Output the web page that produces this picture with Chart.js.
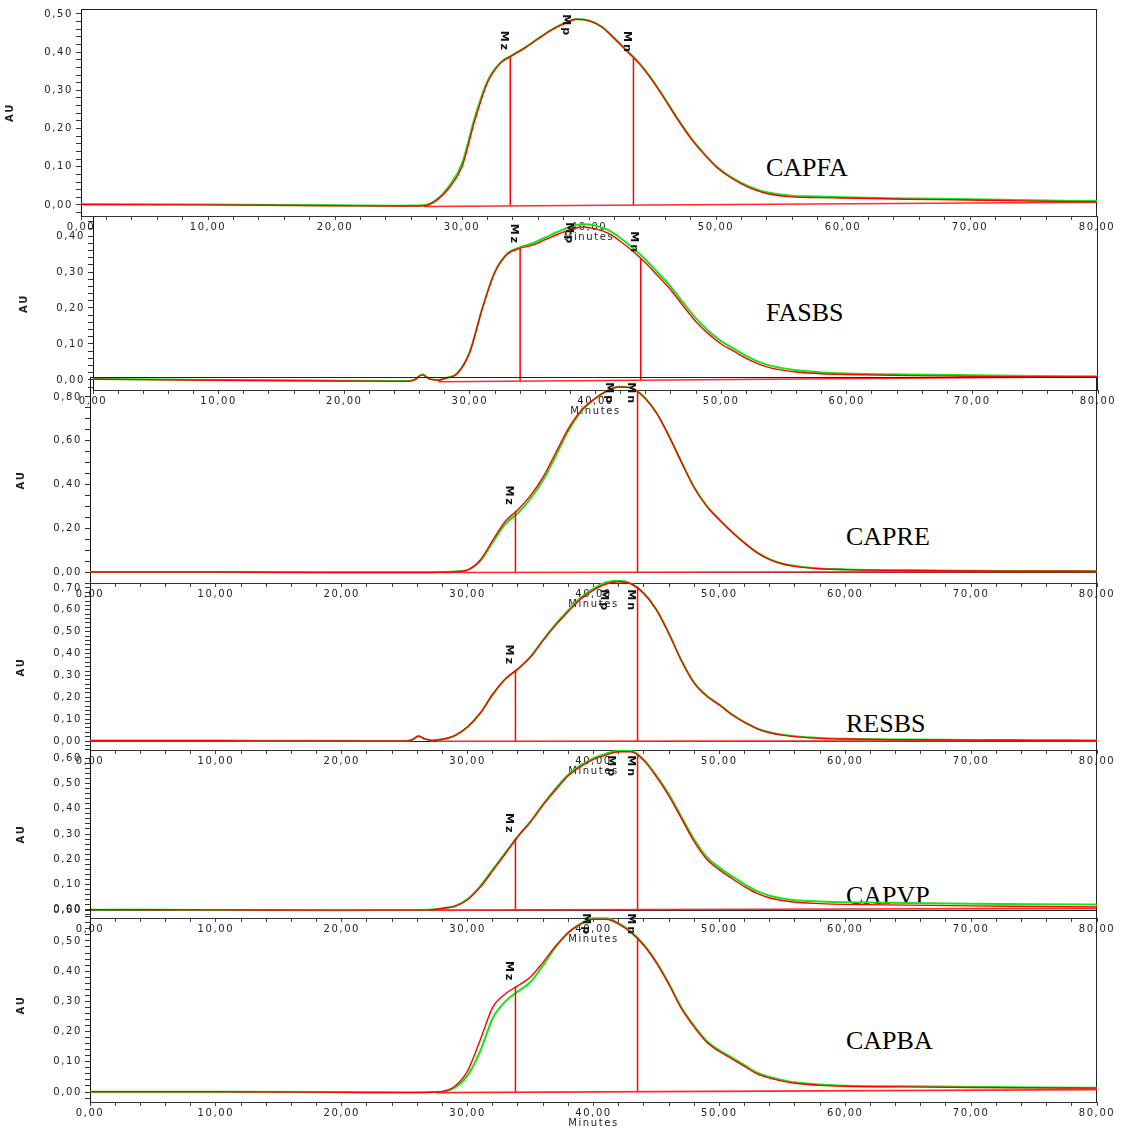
<!DOCTYPE html>
<html>
<head>
<meta charset="utf-8">
<script src="https://cdn.jsdelivr.net/npm/chart.js@4.4.0/dist/chart.umd.min.js"></script>
<style>
    body { margin: 0; background: #fff; width: 1126px; height: 1128px; position: relative; overflow: hidden; }
    canvas { position: absolute; left: 0; top: 0; }
    .muestra { position: absolute; font-family: "Liberation Serif", "Times New Roman", serif; font-size: 26px; line-height: 1; color: #000; }
</style>
</head>
<body>
<div class="muestra" style="left:766px; top:155px">CAPFA</div>
<div class="muestra" style="left:766px; top:300px">FASBS</div>
<div class="muestra" style="left:846px; top:524px">CAPRE</div>
<div class="muestra" style="left:846px; top:711px">RESBS</div>
<div class="muestra" style="left:846px; top:883px">CAPVP</div>
<div class="muestra" style="left:846px; top:1028px">CAPBA</div>
<script>
// Tiempos de retención (min) y absorbancias (AU): rojo = inyección 1, verde = inyección 2
const tCAPFA = [0, 10, 20, 25, 27, 28, 29, 30, 31, 32, 33, 34, 35, 36, 37, 38, 39, 40, 41, 42, 43, 44, 45, 46, 47, 48, 49, 50, 51, 52, 53, 54, 56, 58, 60, 65, 70, 75, 80];
const rojoCAPFA = [0.001, 0.000, -0.002, -0.003, -0.002, 0.012, 0.045, 0.100, 0.220, 0.320, 0.370, 0.392, 0.412, 0.435, 0.457, 0.474, 0.486, 0.482, 0.466, 0.435, 0.402, 0.368, 0.325, 0.275, 0.223, 0.175, 0.135, 0.100, 0.075, 0.055, 0.040, 0.030, 0.021, 0.019, 0.018, 0.015, 0.013, 0.010, 0.008];
const verdeCAPFA = [0.002, 0.001, -0.001, -0.002, -0.001, 0.014, 0.050, 0.108, 0.228, 0.324, 0.372, 0.393, 0.413, 0.436, 0.458, 0.475, 0.486, 0.483, 0.467, 0.437, 0.404, 0.370, 0.327, 0.277, 0.225, 0.177, 0.137, 0.102, 0.077, 0.058, 0.043, 0.033, 0.024, 0.022, 0.020, 0.017, 0.015, 0.012, 0.010];
const baseCAPFA = [[27, -0.004], [80, 0.007]];
const marcasCAPFA = [33.8, 38.7, 43.5];
const alturasCAPFA = [0.390, 0.486, 0.385];

const tFASBS = [0, 10, 20, 24, 25, 25.6, 26.2, 26.8, 27.5, 28, 29, 30, 31, 32, 33, 34, 35, 36, 37, 38, 39, 40, 41, 42, 43, 44, 45, 46, 47, 48, 49, 50, 51, 52, 53, 54, 56, 58, 60, 65, 70, 75, 80];
const rojoFASBS = [0.002, -0.001, -0.003, -0.004, -0.004, 0.000, 0.014, 0.002, -0.001, 0.004, 0.018, 0.078, 0.200, 0.300, 0.350, 0.366, 0.375, 0.390, 0.405, 0.418, 0.425, 0.420, 0.408, 0.385, 0.357, 0.325, 0.288, 0.250, 0.205, 0.162, 0.128, 0.100, 0.080, 0.060, 0.044, 0.033, 0.022, 0.017, 0.015, 0.012, 0.010, 0.009, 0.008];
const verdeFASBS = [0.003, 0.000, -0.002, -0.003, -0.003, 0.001, 0.015, 0.003, 0.000, 0.005, 0.019, 0.079, 0.200, 0.301, 0.352, 0.369, 0.380, 0.396, 0.412, 0.426, 0.433, 0.429, 0.417, 0.394, 0.366, 0.334, 0.297, 0.259, 0.214, 0.171, 0.136, 0.108, 0.087, 0.067, 0.050, 0.039, 0.027, 0.021, 0.018, 0.015, 0.013, 0.011, 0.010];
const baseFASBS = [[27.5, -0.005], [80, 0.009]];
const marcasFASBS = [34.0, 38.4, 43.6];
const alturasFASBS = [0.366, 0.426, 0.339];

const tCAPRE = [0, 10, 20, 25, 28, 29, 30, 31, 32, 33, 34, 35, 36, 37, 38, 39, 40, 41, 42, 43, 44, 45, 46, 47, 48, 49, 50, 51, 52, 53, 54, 55, 56, 58, 60, 65, 70, 75, 80];
const rojoCAPRE = [0.000, 0.000, -0.002, -0.002, -0.001, 0.002, 0.010, 0.055, 0.146, 0.232, 0.285, 0.350, 0.435, 0.545, 0.655, 0.737, 0.788, 0.825, 0.845, 0.840, 0.800, 0.727, 0.620, 0.500, 0.385, 0.300, 0.238, 0.182, 0.132, 0.088, 0.057, 0.037, 0.026, 0.015, 0.011, 0.007, 0.005, 0.004, 0.003];
const verdeCAPRE = [0.000, 0.000, -0.001, -0.001, 0.000, 0.002, 0.009, 0.050, 0.136, 0.220, 0.270, 0.336, 0.420, 0.530, 0.645, 0.732, 0.786, 0.825, 0.846, 0.841, 0.801, 0.728, 0.622, 0.502, 0.387, 0.302, 0.240, 0.184, 0.134, 0.090, 0.059, 0.039, 0.028, 0.016, 0.012, 0.008, 0.006, 0.005, 0.004];
const baseCAPRE = [[28, -0.002], [80, 0.002]];
const marcasCAPRE = [33.8, 41.7, 43.5];
const alturasCAPRE = [0.280, 0.845, 0.823];

const tRESBS = [0, 10, 20, 24, 25, 25.6, 26.1, 26.6, 27.2, 28, 29, 30, 31, 32, 33, 34, 35, 36, 37, 38, 39, 40, 41, 42, 43, 44, 45, 46, 47, 48, 49, 50, 51, 52, 53, 54, 55, 56, 58, 60, 65, 70, 75, 80];
const rojoRESBS = [0.002, 0.001, 0.000, 0.000, 0.000, 0.006, 0.023, 0.010, 0.003, 0.008, 0.026, 0.065, 0.128, 0.215, 0.285, 0.330, 0.384, 0.460, 0.530, 0.592, 0.650, 0.690, 0.718, 0.728, 0.718, 0.675, 0.600, 0.490, 0.365, 0.265, 0.205, 0.165, 0.120, 0.085, 0.056, 0.038, 0.027, 0.020, 0.012, 0.009, 0.006, 0.004, 0.003, 0.002];
const verdeRESBS = [0.003, 0.002, 0.001, 0.000, 0.000, 0.006, 0.022, 0.010, 0.003, 0.008, 0.025, 0.064, 0.126, 0.212, 0.283, 0.330, 0.386, 0.463, 0.535, 0.598, 0.656, 0.697, 0.726, 0.733, 0.720, 0.676, 0.601, 0.491, 0.367, 0.267, 0.207, 0.167, 0.122, 0.087, 0.058, 0.040, 0.029, 0.022, 0.014, 0.010, 0.007, 0.005, 0.004, 0.003];
const baseRESBS = [[27.5, -0.001], [80, 0.001]];
const marcasRESBS = [33.8, 41.3, 43.5];
const alturasRESBS = [0.325, 0.727, 0.705];

const tCAPVP = [0, 10, 20, 25, 27, 28, 29, 30, 31, 32, 33, 34, 35, 36, 37, 38, 39, 40, 41, 42, 43, 44, 45, 46, 47, 48, 49, 50, 51, 52, 53, 54, 55, 56, 58, 60, 65, 70, 75, 80];
const rojoCAPVP = [0.001, 0.000, -0.001, -0.001, 0.000, 0.006, 0.014, 0.040, 0.090, 0.155, 0.222, 0.290, 0.348, 0.415, 0.475, 0.530, 0.567, 0.595, 0.612, 0.625, 0.625, 0.590, 0.526, 0.450, 0.360, 0.270, 0.200, 0.158, 0.124, 0.092, 0.065, 0.047, 0.037, 0.030, 0.025, 0.022, 0.019, 0.016, 0.014, 0.012];
const verdeCAPVP = [0.001, 0.000, -0.001, 0.000, 0.001, 0.007, 0.016, 0.043, 0.094, 0.160, 0.226, 0.292, 0.350, 0.418, 0.480, 0.535, 0.572, 0.600, 0.617, 0.629, 0.628, 0.594, 0.531, 0.456, 0.367, 0.278, 0.209, 0.167, 0.133, 0.101, 0.074, 0.056, 0.045, 0.038, 0.033, 0.030, 0.027, 0.024, 0.022, 0.021];
const baseCAPVP = [[27, -0.001], [80, 0.006]];
const marcasCAPVP = [33.8, 41.9, 43.5];
const alturasCAPVP = [0.283, 0.620, 0.612];

const tCAPBA = [0, 10, 20, 25, 27, 28, 29, 30, 31, 32, 33, 34, 35, 36, 37, 38, 39, 40, 41, 42, 43, 44, 45, 46, 47, 48, 49, 50, 51, 52, 53, 54, 55, 56, 58, 60, 65, 70, 75, 80];
const rojoCAPBA = [0.001, 0.001, -0.001, -0.002, -0.001, 0.002, 0.020, 0.070, 0.172, 0.281, 0.325, 0.352, 0.381, 0.430, 0.483, 0.528, 0.556, 0.572, 0.572, 0.556, 0.527, 0.485, 0.427, 0.355, 0.275, 0.215, 0.165, 0.134, 0.110, 0.085, 0.060, 0.046, 0.036, 0.029, 0.022, 0.019, 0.017, 0.015, 0.014, 0.013];
const verdeCAPBA = [0.001, 0.001, 0.000, -0.001, 0.000, 0.001, 0.015, 0.055, 0.135, 0.245, 0.300, 0.333, 0.364, 0.420, 0.480, 0.528, 0.558, 0.575, 0.575, 0.559, 0.530, 0.488, 0.430, 0.358, 0.279, 0.219, 0.169, 0.138, 0.114, 0.089, 0.064, 0.050, 0.040, 0.032, 0.025, 0.021, 0.019, 0.017, 0.015, 0.014];
const baseCAPBA = [[27.5, -0.002], [80, 0.008]];
const marcasCAPBA = [33.8, 39.9, 43.5];
const alturasCAPBA = [0.350, 0.572, 0.510];

// Etiquetas de los marcadores (solo el 1º y el 3º llevan línea vertical)
const textosMarcas = ['Mz', 'Mp', 'Mn'];
const conLinea = [0, 2];

// Geometría de cada cromatograma dentro de la página
const paneles = [
    { t: tCAPFA, rojo: rojoCAPFA, verde: verdeCAPFA, base: baseCAPFA, marcas: marcasCAPFA, alturas: alturasCAPFA,
      izq: 81, der: 1097, arriba: 8, eje: 216, yMin: -0.029, yMax: 0.513, menor: 0.02, mayor: 0.1, tope: 0.50, padAU: 4, marcoArriba: true },
    { t: tFASBS, rojo: rojoFASBS, verde: verdeFASBS, base: baseFASBS, marcas: marcasFASBS, alturas: alturasFASBS,
      izq: 93, der: 1098, arriba: 217, eje: 390, yMin: -0.028, yMax: 0.453, menor: 0.02, mayor: 0.1, tope: 0.44, padAU: 18 },
    { t: tCAPRE, rojo: rojoCAPRE, verde: verdeCAPRE, base: baseCAPRE, marcas: marcasCAPRE, alturas: alturasCAPRE,
      izq: 90, der: 1097, arriba: 377, eje: 583, yMin: -0.050, yMax: 0.891, menor: 0.05, mayor: 0.2, tope: 0.80, padAU: 15, marcoArriba: true, cero: true },
    { t: tRESBS, rojo: rojoRESBS, verde: verdeRESBS, base: baseRESBS, marcas: marcasRESBS, alturas: alturasRESBS,
      izq: 90, der: 1097, arriba: 584, eje: 750, yMin: -0.041, yMax: 0.718, menor: 0.02, mayor: 0.1, tope: 0.70, padAU: 15, cero: true },
    { t: tCAPVP, rojo: rojoCAPVP, verde: verdeCAPVP, base: baseCAPVP, marcas: marcasCAPVP, alturas: alturasCAPVP,
      izq: 90, der: 1097, arriba: 750, eje: 918, yMin: -0.032, yMax: 0.632, menor: 0.02, mayor: 0.1, tope: 0.60, padAU: 15, cero: true },
    { t: tCAPBA, rojo: rojoCAPBA, verde: verdeCAPBA, base: baseCAPBA, marcas: marcasCAPBA, alturas: alturasCAPBA,
      izq: 90, der: 1097, arriba: 908, eje: 1102, yMin: -0.033, yMax: 0.609, menor: 0.02, mayor: 0.1, tope: 0.60, padAU: 15 }
];

const fuente = { family: 'DejaVu Sans', size: 10 };
const coma = v => v.toFixed(2).replace('.', ',');

function baseEn(base, x) {
    const [[x0, y0], [x1, y1]] = base;
    return y0 + (y1 - y0) * (x - x0) / (x1 - x0);
}

// Espaciado ancho de los textos de los ejes
const espaciado = {
    id: 'espaciado',
    beforeDraw(chart) { chart.ctx.letterSpacing = '1.6px'; }
};

// Marco superior/derecho y línea de cero
const marco = {
    id: 'marco',
    beforeDatasetsDraw(chart, args, o) {
        const { ctx, chartArea: a, scales: { y } } = chart;
        ctx.save();
        ctx.strokeStyle = '#222';
        ctx.lineWidth = 1;
        ctx.beginPath();
        if (o.arriba) { ctx.moveTo(a.left, a.top + 0.5); ctx.lineTo(a.right, a.top + 0.5); }
        ctx.moveTo(a.right - 0.5, a.top); ctx.lineTo(a.right - 0.5, a.bottom);
        if (o.cero) {
            const y0 = Math.round(y.getPixelForValue(0)) + 0.5;
            ctx.moveTo(a.left, y0); ctx.lineTo(a.right, y0);
        }
        ctx.stroke();
        ctx.restore();
    }
};

// Rótulos verticales de los marcadores; nunca más arriba que el borde del panel + 28 px
const rotulos = {
    id: 'rotulos',
    afterDatasetsDraw(chart, args, o) {
        const { ctx, chartArea: a, scales: { x, y } } = chart;
        ctx.save();
        ctx.letterSpacing = '2px';
        ctx.font = 'bold 11px "DejaVu Sans"';
        ctx.fillStyle = '#111';
        o.marcas.forEach((m, i) => {
            const fin = Math.max(y.getPixelForValue(o.alturas[i]) - 4, a.top + 28);
            ctx.save();
            ctx.translate(x.getPixelForValue(m) - 1, fin);
            ctx.rotate(Math.PI / 2);
            ctx.textAlign = 'right';
            ctx.textBaseline = 'top';
            ctx.fillText(textosMarcas[i], 0, 0);
            ctx.restore();
        });
        ctx.restore();
    }
};

function crearPanel(p) {
    const canvas = document.createElement('canvas');
    canvas.width = 1126;
    canvas.height = p.eje + 27;
    document.body.appendChild(canvas);

    const puntos = (xs, ys) => ys.map((v, i) => ({ x: xs[i], y: v }));
    const datasets = [
        { data: puntos(p.t, p.rojo), borderColor: '#ff0000', borderWidth: 1.4 },
        { data: p.base.map(([x, y]) => ({ x, y })), borderColor: '#ff2b2b', borderWidth: 1.6 }
    ];
    conLinea.forEach(i => {
        const m = p.marcas[i];
        datasets.push({ data: [{ x: m, y: baseEn(p.base, m) }, { x: m, y: p.alturas[i] }], borderColor: '#ff0000', borderWidth: 1.5 });
    });
    datasets.push({ data: puntos(p.t, p.verde), borderColor: '#14e614', borderWidth: 2 });
    datasets.forEach(d => { d.clip = false; d.cubicInterpolationMode = 'monotone'; });

    const ticksY = [];
    for (let k = Math.ceil(p.yMin / p.menor - 1e-9); k * p.menor <= p.tope + 1e-9; k++) ticksY.push({ value: +(k * p.menor).toFixed(3) });
    const ticksX = [];
    for (let v = 0; v <= 80; v += 2) ticksX.push({ value: v });

    return new Chart(canvas, {
        type: 'line',
        data: { datasets },
        options: {
            responsive: false,
            animation: false,
            events: [],
            layout: { padding: { left: 0, top: p.arriba, right: 1126 - p.der, bottom: 0 } },
            elements: { point: { radius: 0 }, line: { tension: 0 } },
            plugins: {
                legend: { display: false },
                tooltip: { enabled: false },
                marco: { arriba: !!p.marcoArriba, cero: !!p.cero },
                rotulos: { marcas: p.marcas, alturas: p.alturas }
            },
            scales: {
                x: {
                    type: 'linear', min: 0, max: 80,
                    afterBuildTicks: s => { s.ticks = ticksX; },
                    afterFit: s => { s.height = 27; },
                    grid: { drawOnChartArea: false, tickLength: 4, color: '#444' },
                    border: { color: '#333' },
                    ticks: { autoSkip: false, maxRotation: 0, padding: 1, color: '#222', font: fuente,
                        callback: v => v % 10 === 0 ? coma(v) : '' },
                    title: { display: true, text: 'Minutes', padding: 0, color: '#222', font: fuente }
                },
                y: {
                    type: 'linear', min: p.yMin, max: p.yMax,
                    afterBuildTicks: s => { s.ticks = ticksY; },
                    afterFit: s => { s.width = p.izq; },
                    grid: { drawOnChartArea: false, tickLength: 5, color: '#333' },
                    border: { color: '#111' },
                    ticks: { autoSkip: false, padding: 3, color: '#222', font: fuente,
                        callback: v => {
                            const r = v / p.mayor;
                            return v >= 0 && Math.abs(r - Math.round(r)) < 1e-6 ? coma(v) : '';
                        } },
                    title: { display: true, text: 'AU', padding: { top: p.padAU, bottom: 0 }, color: '#222', font: { family: 'DejaVu Sans', size: 10, weight: 'bold' } }
                }
            }
        },
        plugins: [espaciado, marco, rotulos]
    });
}

paneles.forEach(crearPanel);
</script>
</body>
</html>
